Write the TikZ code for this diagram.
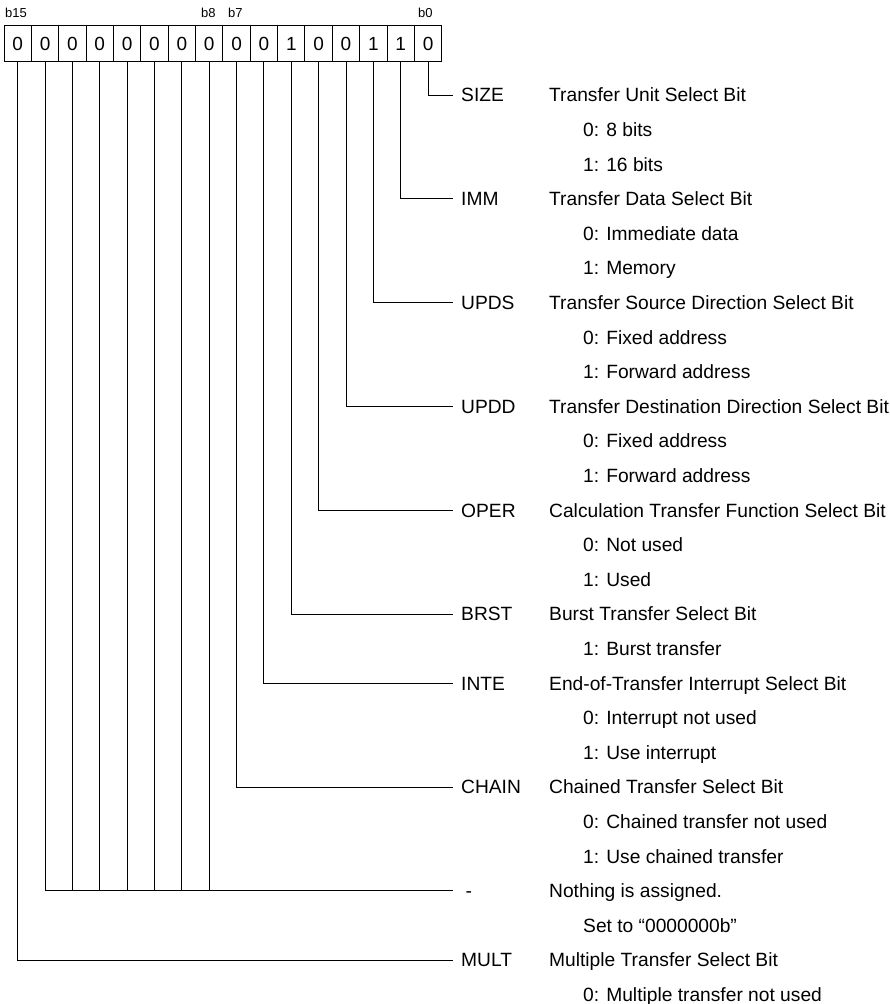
\documentclass[tikz,border=0pt]{standalone}
\usepackage{fontspec}
\setmainfont{Liberation Sans}
\begin{document}
\begin{tikzpicture}[x=1pt,y=-1pt,
  cell/.style={draw, line width=1pt, minimum width=27.36pt, minimum height=35.5pt, inner sep=0pt, font=\fontsize{19}{22}\selectfont},
  bitno/.style={anchor=base west, inner sep=0pt, font=\fontsize{13}{15}\selectfont},
  txt/.style={anchor=west, inner sep=0pt, text height=13.6pt, text depth=0pt, font=\fontsize{19.2}{23}\selectfont},
  mnem/.style={txt, inner xsep=8pt},
  conn/.style={draw, line width=0.9pt}]
\useasboundingbox (0,0) rectangle (889,1004);
% register cells, c0 = b15 ... c15 = b0
\foreach \v [count=\i from 0] in {0,0,0,0,0,0,0,0,0,0,1,0,0,1,1,0}
  \node[cell] (c\i) at ({4+27.36*(\i+0.5)},43.6) {\v};
% bit numbers
\node[bitno] (n15) at (5,17.5) {b15};
\node[bitno] (n8) at (201,17.5) {b8};
\node[bitno] (n7) at (228,17.5) {b7};
\node[bitno] (n0) at (418,17.5) {b0};
% mnemonics
\node[mnem] (size) at (453,95) {SIZE};
\node[mnem] (imm) at (453,198.8) {IMM};
\node[mnem] (upds) at (453,302.6) {UPDS};
\node[mnem] (updd) at (453,406.4) {UPDD};
\node[mnem] (oper) at (453,510.2) {OPER};
\node[mnem] (brst) at (453,614) {BRST};
\node[mnem] (inte) at (453,683.2) {INTE};
\node[mnem] (chain) at (453,787) {CHAIN};
\node[mnem, inner xsep=12.5pt] (dash) at (453,890.8) {-};
\node[mnem] (mult) at (453,960) {MULT};
% descriptions
\node[txt] (d0) at (549,95) {Transfer Unit Select Bit};
\node[txt] (d1) at (583,129.6) {0: 8 bits};
\node[txt] (d2) at (583,164.2) {1: 16 bits};
\node[txt] (d3) at (549,198.8) {Transfer Data Select Bit};
\node[txt] (d4) at (583,233.4) {0: Immediate data};
\node[txt] (d5) at (583,268) {1: Memory};
\node[txt] (d6) at (549,302.6) {Transfer Source Direction Select Bit};
\node[txt] (d7) at (583,337.2) {0: Fixed address};
\node[txt] (d8) at (583,371.8) {1: Forward address};
\node[txt] (d9) at (549,406.4) {Transfer Destination Direction Select Bit};
\node[txt] (d10) at (583,441) {0: Fixed address};
\node[txt] (d11) at (583,475.6) {1: Forward address};
\node[txt] (d12) at (549,510.2) {Calculation Transfer Function Select Bit};
\node[txt] (d13) at (583,544.8) {0: Not used};
\node[txt] (d14) at (583,579.4) {1: Used};
\node[txt] (d15) at (549,614) {Burst Transfer Select Bit};
\node[txt] (d16) at (583,648.6) {1: Burst transfer};
\node[txt] (d17) at (549,683.2) {End-of-Transfer Interrupt Select Bit};
\node[txt] (d18) at (583,717.8) {0: Interrupt not used};
\node[txt] (d19) at (583,752.4) {1: Use interrupt};
\node[txt] (d20) at (549,787) {Chained Transfer Select Bit};
\node[txt] (d21) at (583,821.6) {0: Chained transfer not used};
\node[txt] (d22) at (583,856.2) {1: Use chained transfer};
\node[txt] (d23) at (549,890.8) {Nothing is assigned.};
\node[txt] (d24) at (583,925.4) {Set to “0000000b”};
\node[txt] (d25) at (549,960) {Multiple Transfer Select Bit};
\node[txt] (d26) at (583,994.6) {0: Multiple transfer not used};
% connectors
\draw[conn] (c15.south) |- (size.west);
\draw[conn] (c14.south) |- (imm.west);
\draw[conn] (c13.south) |- (upds.west);
\draw[conn] (c12.south) |- (updd.west);
\draw[conn] (c11.south) |- (oper.west);
\draw[conn] (c10.south) |- (brst.west);
\draw[conn] (c9.south) |- (inte.west);
\draw[conn] (c8.south) |- (chain.west);
\draw[conn] (c1.south) |- (dash.west);
\foreach \k in {2,...,7}
  \draw[conn] (c\k.south) -- (c\k.south |- dash.west);
\draw[conn] (c0.south) |- (mult.west);
\end{tikzpicture}
\end{document}
